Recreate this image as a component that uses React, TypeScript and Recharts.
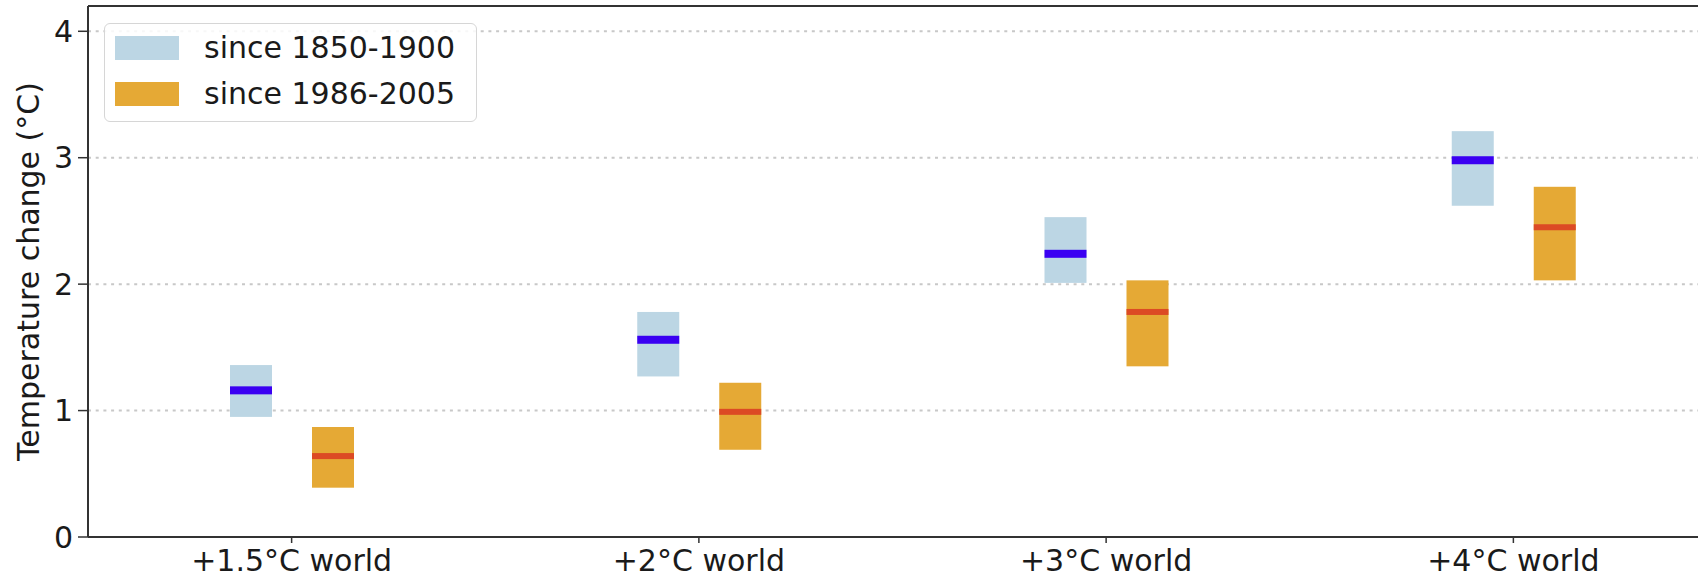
import React from 'react';
import { BarChart, Bar, XAxis, YAxis, CartesianGrid, ReferenceLine, Legend, Label } from 'recharts';

const categories = ['+1.5°C world', '+2°C world', '+3°C world', '+4°C world'];
const preIndLow = [0.95, 1.27, 2.01, 2.62];
const preIndHigh = [1.36, 1.78, 2.53, 3.21];
const preIndMedian = [1.16, 1.56, 2.24, 2.98];
const recentLow = [0.39, 0.69, 1.35, 2.03];
const recentHigh = [0.87, 1.22, 2.03, 2.77];
const recentMedian = [0.64, 0.99, 1.78, 2.45];
const yTicks = [0, 1, 2, 3, 4];
const seriesNames = ['since 1850-1900', 'since 1986-2005'];

const data = categories.map((name, i) => ({
  name,
  pre: [preIndLow[i], preIndHigh[i]],
  preMed: preIndMedian[i],
  rec: [recentLow[i], recentHigh[i]],
  recMed: recentMedian[i],
}));

const FONT = '"DejaVu Sans", sans-serif';
const TEXT = '#1a1a1a';
const AXIS = '#333333';

const makeShape = (key: string, medKey: string, fill: string, medColor: string, medW: number) => (props: any) => {
  const { x, y, width, height, payload } = props;
  if (x == null || y == null) return null;
  const [lo, hi] = payload[key];
  const med = payload[medKey];
  const top = Math.min(y, y + height);
  const h = Math.abs(height);
  const my = top + (h * (hi - med)) / (hi - lo);
  return (
    <g>
      <rect x={x} y={top} width={width} height={h} fill={fill} />
      <rect x={x} y={my - medW / 2} width={width} height={medW} fill={medColor} />
    </g>
  );
};

const BLUE = '#bcd6e4';
const ORANGE = '#e5a935';

const LegendBox = (props: any) => {
  const payload = props.payload || [];
  return (
    <div
      style={{
        width: 373,
        height: 99,
        boxSizing: 'border-box',
        border: '1.5px solid #d6d6d6',
        borderRadius: 6,
        background: 'rgba(255,255,255,0.85)',
        position: 'relative',
        fontFamily: FONT,
      }}
    >
      {payload.map((p: any, i: number) => (
        <div key={i} style={{ position: 'absolute', left: 0, top: i === 0 ? 1 : 47, height: 46, width: 370 }}>
          <div style={{ position: 'absolute', left: 10, top: 11, width: 64, height: 24, background: p.color }} />
          <div
            style={{
              position: 'absolute',
              left: 99,
              top: 3,
              fontSize: 30,
              lineHeight: '40px',
              color: TEXT,
              whiteSpace: 'nowrap',
            }}
          >
            {p.value}
          </div>
        </div>
      ))}
    </div>
  );
};

export default function App() {
  return (
    <div
      style={{
        position: 'absolute',
        left: 0,
        top: 0,
        width: 1698,
        height: 579,
        overflow: 'hidden',
        background: '#fff',
        fontFamily: FONT,
      }}
    >
      <BarChart width={1730} height={579} data={data} margin={{ top: 6, right: 13, bottom: 0, left: 0 }} barGap={40}>
        <CartesianGrid vertical={false} stroke="#c8c8c8" strokeWidth={2} strokeDasharray="3 4.7" />
        <XAxis
          dataKey="name"
          height={42}
          tickSize={6}
          tickMargin={7}
          stroke={AXIS}
          axisLine={{ stroke: AXIS, strokeWidth: 2 }}
          tickLine={{ stroke: AXIS, strokeWidth: 1.5 }}
          tick={{ fontSize: 30, fill: TEXT, fontFamily: FONT }}
          interval={0}
        />
        <YAxis
          width={88}
          domain={[0, 4.2]}
          ticks={yTicks}
          allowDataOverflow
          tickSize={10}
          tickMargin={5}
          axisLine={{ stroke: AXIS, strokeWidth: 2 }}
          tickLine={{ stroke: AXIS, strokeWidth: 1.5 }}
          tick={{ fontSize: 30, fill: TEXT, fontFamily: FONT }}
        >
          <Label
            content={(p: any) => {
              const vb = p.viewBox || { y: 6, height: 531 };
              const cy = vb.y + vb.height / 2;
              return (
                <text
                  x={39}
                  y={cy}
                  transform={`rotate(-90 39 ${cy})`}
                  textAnchor="middle"
                  fontSize={30}
                  fill={TEXT}
                  fontFamily={FONT}
                >
                  Temperature change (°C)
                </text>
              );
            }}
          />
        </YAxis>
        <ReferenceLine y={4.2} stroke={AXIS} strokeWidth={2} ifOverflow="extendDomain" />
        <Legend
          layout="horizontal"
          verticalAlign="middle"
          align="center"
          wrapperStyle={{ left: 104, top: 23, width: 373, height: 99 }}
          content={<LegendBox />}
        />
        <Bar
          dataKey="pre"
          name={seriesNames[0]}
          fill={BLUE}
          barSize={42}
          isAnimationActive={false}
          shape={makeShape('pre', 'preMed', BLUE, '#3a00f2', 8)}
        />
        <Bar
          dataKey="rec"
          name={seriesNames[1]}
          fill={ORANGE}
          barSize={42}
          isAnimationActive={false}
          shape={makeShape('rec', 'recMed', ORANGE, '#dc4a24', 6)}
        />
      </BarChart>
    </div>
  );
}
